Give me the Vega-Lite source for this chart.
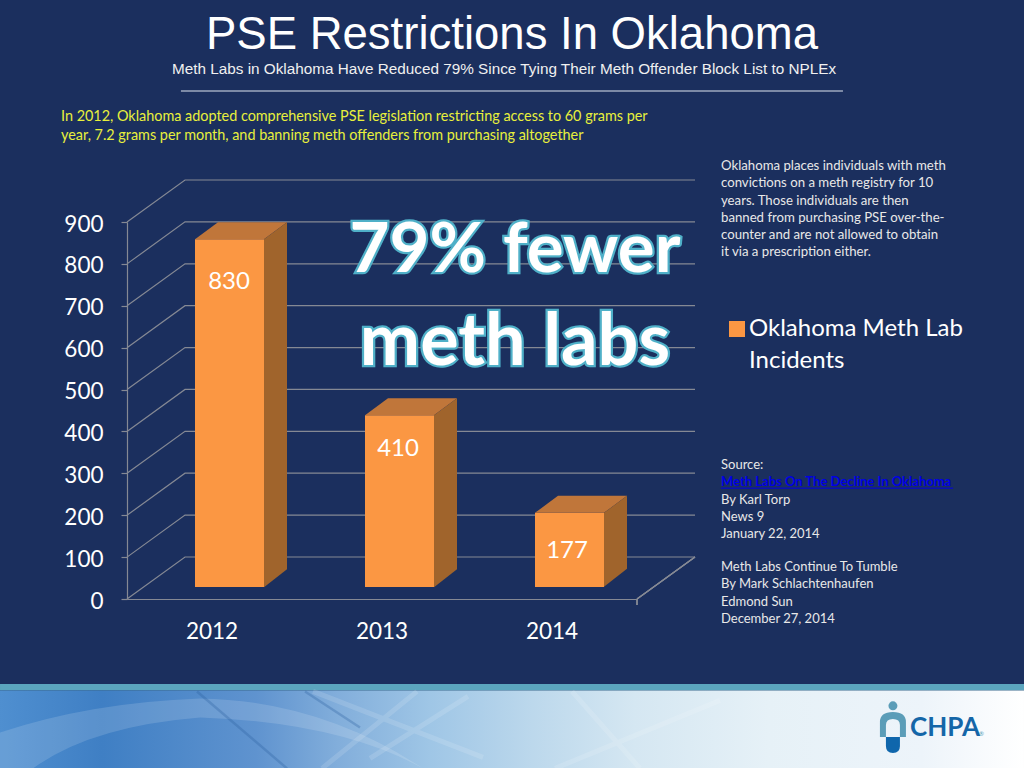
{
"$schema":"https://vega.github.io/schema/vega-lite/v6.json",
"autosize":"none",
"width":510,"height":377,
"padding":{"left":127,"top":222,"right":387,"bottom":169},
"background":"#1b2f5e",
"config":{"view":{"stroke":null},"font":"Lato"},
"title":{"text":"PSE Restrictions In Oklahoma","anchor":"middle","dx":130,"offset":4,"font":"Liberation Sans","fontSize":45.5,"fontWeight":"normal","color":"#ffffff"},
"datasets":{
"labs":[{"year":"2012","incidents":830,"series":"Oklahoma Meth Lab Incidents"},{"year":"2013","incidents":410,"series":"Oklahoma Meth Lab Incidents"},{"year":"2014","incidents":177,"series":"Oklahoma Meth Lab Incidents"}],
"ticks":[{"tick":0},{"tick":100},{"tick":200},{"tick":300},{"tick":400},{"tick":500},{"tick":600},{"tick":700},{"tick":800},{"tick":900}]
},
"resolve":{"scale":{"x":"independent","y":"independent"}},
"layer":[
{"data":{"values":[{"slide":"Oklahoma"}]},
 "layer":[
 {"mark":{"type":"rect","color":"#5ba5be"},"encoding":{"x":{"datum":0,"type":"quantitative","scale":{"domain":[12.402,62.207],"nice":false,"zero":false},"axis":null},"x2":{"datum":100},"y":{"datum":89.06,"type":"quantitative","scale":{"domain":[77.995,28.906],"nice":false,"zero":false},"axis":null},"y2":{"datum":89.9}}},
 {"mark":{"type":"rect","color":{"gradient":"linear","x1":0,"y1":0,"x2":1,"y2":0,"stops":[{"offset":0,"color":"#4f8fd0"},{"offset":0.1,"color":"#3f7fc4"},{"offset":0.25,"color":"#5f93cf"},{"offset":0.33,"color":"#82aedb"},{"offset":0.42,"color":"#9fc6e6"},{"offset":0.52,"color":"#bcd8ec"},{"offset":0.62,"color":"#d5e7f2"},{"offset":0.75,"color":"#e6f1f7"},{"offset":0.9,"color":"#edf4fa"},{"offset":1,"color":"#ffffff"}]}},"encoding":{"x":{"datum":0,"type":"quantitative","scale":{"domain":[12.402,62.207],"nice":false,"zero":false},"axis":null},"x2":{"datum":100},"y":{"datum":89.9,"type":"quantitative","scale":{"domain":[77.995,28.906],"nice":false,"zero":false},"axis":null},"y2":{"datum":100}}},
 {"mark":{"type":"point","shape":"M0,42 Q90,12 200,8 Q320,10 423,78 Q340,32 200,27 Q90,36 33,78 L0,78 Z","size":4,"filled":true,"color":"#ffffff","opacity":0.14},"encoding":{"x":{"datum":0,"type":"quantitative","scale":{"domain":[12.402,62.207],"nice":false,"zero":false},"axis":null},"y":{"datum":89.9,"type":"quantitative","scale":{"domain":[77.995,28.906],"nice":false,"zero":false},"axis":null}}},
 {"mark":{"type":"point","shape":"M197,1 L287,78 M305,1 L360,37","size":4,"filled":false,"color":"#2a5f9f","strokeWidth":2.5,"opacity":0.3},"encoding":{"x":{"datum":0,"type":"quantitative","scale":{"domain":[12.402,62.207],"nice":false,"zero":false},"axis":null},"y":{"datum":89.9,"type":"quantitative","scale":{"domain":[77.995,28.906],"nice":false,"zero":false},"axis":null}}},
 {"mark":{"type":"point","shape":"M417,1 L322,78 M468,6 L370,68 M313,1 L483,67 M572,1 L640,78 M720,10 L555,78","size":4,"filled":false,"color":"#ffffff","strokeWidth":5,"opacity":0.13},"encoding":{"x":{"datum":0,"type":"quantitative","scale":{"domain":[12.402,62.207],"nice":false,"zero":false},"axis":null},"y":{"datum":89.9,"type":"quantitative","scale":{"domain":[77.995,28.906],"nice":false,"zero":false},"axis":null}}},
 {"mark":{"type":"point","shape":"circle","size":80,"filled":true,"color":"#5b9db8","opacity":1},"encoding":{"x":{"datum":87.2,"type":"quantitative","scale":{"domain":[12.402,62.207],"nice":false,"zero":false},"axis":null},"y":{"datum":91.9,"type":"quantitative","scale":{"domain":[77.995,28.906],"nice":false,"zero":false},"axis":null}}},
 {"mark":{"type":"point","shape":"M-13,0 L-13,-15 Q-13,-25 0,-25 Q13,-25 13,-15 L13,0 L7,0 L7,-12 Q7,-18 0,-18 Q-7,-18 -7,-12 L-7,0 Z","size":4,"filled":true,"color":"#5b9db8","opacity":1},"encoding":{"x":{"datum":87.2,"type":"quantitative","scale":{"domain":[12.402,62.207],"nice":false,"zero":false},"axis":null},"y":{"datum":95.96,"type":"quantitative","scale":{"domain":[77.995,28.906],"nice":false,"zero":false},"axis":null}}},
 {"mark":{"type":"point","shape":"M-7,0 L7,0 L7,9 Q7,16 0,16 Q-7,16 -7,9 Z","size":4,"filled":true,"color":"#0f66ac","opacity":1},"encoding":{"x":{"datum":87.2,"type":"quantitative","scale":{"domain":[12.402,62.207],"nice":false,"zero":false},"axis":null},"y":{"datum":95.96,"type":"quantitative","scale":{"domain":[77.995,28.906],"nice":false,"zero":false},"axis":null}}},
 {"mark":{"type":"text","text":"CHPA","align":"left","baseline":"alphabetic","font":"Lato","fontWeight":"bold","fontSize":26,"color":"#1466a8"},"encoding":{"x":{"datum":88.87,"type":"quantitative","scale":{"domain":[12.402,62.207],"nice":false,"zero":false},"axis":null},"y":{"datum":95.83,"type":"quantitative","scale":{"domain":[77.995,28.906],"nice":false,"zero":false},"axis":null}}},
 {"mark":{"type":"text","text":"®","align":"left","baseline":"alphabetic","fontSize":6,"color":"#5b9db8"},"encoding":{"x":{"datum":95.6,"type":"quantitative","scale":{"domain":[12.402,62.207],"nice":false,"zero":false},"axis":null},"y":{"datum":95.83,"type":"quantitative","scale":{"domain":[77.995,28.906],"nice":false,"zero":false},"axis":null}}},
 {"mark":{"type":"text","text":"Meth Labs in Oklahoma Have Reduced 79% Since Tying Their Meth Offender Block List to NPLEx","align":"center","baseline":"alphabetic","font":"Liberation Sans","fontSize":15.3,"color":"#f0f0f0"},"encoding":{"x":{"datum":49.22,"type":"quantitative","scale":{"domain":[12.402,62.207],"nice":false,"zero":false},"axis":null},"y":{"datum":9.635,"type":"quantitative","scale":{"domain":[77.995,28.906],"nice":false,"zero":false},"axis":null}}},
 {"mark":{"type":"rule","color":"#dfe6ee","strokeWidth":1},"encoding":{"x":{"datum":17.67,"type":"quantitative","scale":{"domain":[12.402,62.207],"nice":false,"zero":false},"axis":null},"x2":{"datum":82.32},"y":{"datum":11.85,"type":"quantitative","scale":{"domain":[77.995,28.906],"nice":false,"zero":false},"axis":null}}},
 {"mark":{"type":"text","text":["In 2012, Oklahoma adopted comprehensive PSE legislation restricting access to 60 grams per","year, 7.2 grams per month, and banning meth offenders from purchasing altogether"],"align":"left","baseline":"alphabetic","fontSize":14.4,"lineHeight":19,"color":"#e8f03c"},"encoding":{"x":{"datum":5.957,"type":"quantitative","scale":{"domain":[12.402,62.207],"nice":false,"zero":false},"axis":null},"y":{"datum":15.755,"type":"quantitative","scale":{"domain":[77.995,28.906],"nice":false,"zero":false},"axis":null}}},
 {"mark":{"type":"text","text":["Oklahoma places individuals with meth","convictions on a meth registry for 10","years.  Those individuals are then","banned from purchasing PSE over-the-","counter and are not allowed to obtain","it via a prescription either."],"align":"left","baseline":"alphabetic","fontSize":13.2,"lineHeight":17.3,"color":"#e8e8e8"},"encoding":{"x":{"datum":70.41,"type":"quantitative","scale":{"domain":[12.402,62.207],"nice":false,"zero":false},"axis":null},"y":{"datum":22.135,"type":"quantitative","scale":{"domain":[77.995,28.906],"nice":false,"zero":false},"axis":null}}},
 {"mark":{"type":"text","text":"Source:","align":"left","baseline":"alphabetic","fontSize":13,"color":"#e8e8e8"},"encoding":{"x":{"datum":70.41,"type":"quantitative","scale":{"domain":[12.402,62.207],"nice":false,"zero":false},"axis":null},"y":{"datum":61.07,"type":"quantitative","scale":{"domain":[77.995,28.906],"nice":false,"zero":false},"axis":null}}},
 {"mark":{"type":"text","text":["By Karl Torp","News 9","January 22, 2014"],"align":"left","baseline":"alphabetic","fontSize":13,"lineHeight":17.1,"color":"#e8e8e8"},"encoding":{"x":{"datum":70.41,"type":"quantitative","scale":{"domain":[12.402,62.207],"nice":false,"zero":false},"axis":null},"y":{"datum":65.56,"type":"quantitative","scale":{"domain":[77.995,28.906],"nice":false,"zero":false},"axis":null}}},
 {"mark":{"type":"text","text":["Meth Labs Continue To Tumble","By Mark Schlachtenhaufen","Edmond Sun","December 27, 2014"],"align":"left","baseline":"alphabetic","fontSize":13,"lineHeight":17.3,"color":"#e8e8e8"},"encoding":{"x":{"datum":70.41,"type":"quantitative","scale":{"domain":[12.402,62.207],"nice":false,"zero":false},"axis":null},"y":{"datum":74.35,"type":"quantitative","scale":{"domain":[77.995,28.906],"nice":false,"zero":false},"axis":null}}},
 {"mark":{"type":"text","text":"Meth Labs On The Decline In Oklahoma","align":"left","baseline":"alphabetic","fontSize":13,"fontWeight":"bold","color":"#0000e6"},"encoding":{"x":{"datum":70.41,"type":"quantitative","scale":{"domain":[12.402,62.207],"nice":false,"zero":false},"axis":null},"y":{"datum":63.28,"type":"quantitative","scale":{"domain":[77.995,28.906],"nice":false,"zero":false},"axis":null}}},
 {"mark":{"type":"rule","color":"#0000e6","strokeWidth":1},"encoding":{"x":{"datum":70.41,"type":"quantitative","scale":{"domain":[12.402,62.207],"nice":false,"zero":false},"axis":null},"x2":{"datum":93.07},"y":{"datum":63.56,"type":"quantitative","scale":{"domain":[77.995,28.906],"nice":false,"zero":false},"axis":null}}}
 ]},
{"data":{"name":"labs"},
 "layer":[
 {"data":{"name":"ticks"},"mark":{"type":"point","shape":"M-85,0 L-27,-42 L483,-42","size":4,"filled":false,"color":"#858994","strokeWidth":1.2,"opacity":1},"encoding":{"x":{"datum":"2012","type":"ordinal","scale":{"domain":["2012","2013","2014"],"paddingInner":0,"paddingOuter":0},"axis":{"title":null,"labelAngle":0,"labelFontSize":22.5,"labelColor":"#ffffff","labelFont":"Lato","labelPadding":21,"ticks":false,"domainColor":"#858994","domainWidth":1.2}},"y":{"field":"tick","type":"quantitative","scale":{"domain":[0,900],"nice":false},"axis":{"title":null,"values":[0,100,200,300,400,500,600,700,800,900],"grid":false,"labelFontSize":22.5,"labelColor":"#ffffff","labelFont":"Lato","labelPadding":18,"labelOffset":2,"tickColor":"#858994","tickSize":6,"tickWidth":1.2,"domainColor":"#858994","domainWidth":1.2}}}},
 {"mark":{"type":"point","shape":"M425,0 L483,-42 M425,0 L425,6","size":4,"filled":false,"color":"#858994","strokeWidth":1.2,"opacity":1},"encoding":{"x":{"datum":"2012","type":"ordinal"},"y":{"datum":0,"type":"quantitative"}}},
 {"mark":{"type":"bar","size":69,"xOffset":17.5,"yOffset":-12,"y2Offset":-12},"encoding":{"x":{"field":"year","type":"ordinal"},"y":{"field":"incidents","type":"quantitative","stack":null},"y2":{"datum":0},"color":{"field":"series","type":"nominal","scale":{"range":["#fb9743"]},"legend":{"title":null,"orient":"none","legendX":598,"legendY":95,"symbolType":"square","symbolSize":256,"symbolStrokeWidth":0,"labelOffset":0,"labelFontSize":24,"labelColor":"#ffffff","labelFont":"Lato","labelLimit":400,"labelExpr":"['Oklahoma Meth Lab','Incidents']","encode":{"labels":{"update":{"lineHeight":{"value":32}}}}}}}},
 {"mark":{"type":"point","shape":"M-17,-12 L6,-29 L75,-29 L52,-12 Z","size":4,"filled":true,"color":"#c0763a","opacity":1},"encoding":{"x":{"field":"year","type":"ordinal"},"y":{"field":"incidents","type":"quantitative"}}},
 {"mark":{"type":"point","size":4,"filled":true,"color":"#a0642c","opacity":1},"encoding":{"x":{"field":"year","type":"ordinal"},"y":{"field":"incidents","type":"quantitative"},"shape":{"field":"year","type":"nominal","scale":{"domain":["2012","2013","2014"],"range":["M52,-12 L75,-29 L75,318 L52,336 Z","M52,-12 L75,-29 L75,142 L52,160 Z","M52,-12 L75,-29 L75,44 L52,62 Z"]},"legend":null}}},
 {"transform":[{"filter":"datum.year=='2012'"}],"mark":{"type":"text","dx":17,"dy":31,"fontSize":24,"color":"#ffffff"},"encoding":{"x":{"field":"year","type":"ordinal"},"y":{"field":"incidents","type":"quantitative"},"text":{"field":"incidents","type":"quantitative"}}},
 {"transform":[{"filter":"datum.year=='2013'"}],"mark":{"type":"text","dx":16,"dy":22,"fontSize":24,"color":"#ffffff"},"encoding":{"x":{"field":"year","type":"ordinal"},"y":{"field":"incidents","type":"quantitative"},"text":{"field":"incidents","type":"quantitative"}}},
 {"transform":[{"filter":"datum.year=='2014'"}],"mark":{"type":"text","dx":15,"dy":26,"fontSize":24,"color":"#ffffff"},"encoding":{"x":{"field":"year","type":"ordinal"},"y":{"field":"incidents","type":"quantitative"},"text":{"field":"incidents","type":"quantitative"}}}
 ]},
{"data":{"values":[{"slide":"Oklahoma"}]},
 "layer":[
 {"mark":{"type":"text","text":"79% fewer","align":"center","baseline":"alphabetic","fontSize":69,"fontWeight":"bold","fill":"#ffffff","stroke":"#4fb0c8","strokeWidth":4.5},"encoding":{"x":{"datum":50.29,"type":"quantitative","scale":{"domain":[12.402,62.207],"nice":false,"zero":false},"axis":null},"y":{"datum":35.42,"type":"quantitative","scale":{"domain":[77.995,28.906],"nice":false,"zero":false},"axis":null}}},
 {"mark":{"type":"text","text":"meth labs","align":"center","baseline":"alphabetic","fontSize":72,"fontWeight":"bold","fill":"#ffffff","stroke":"#4fb0c8","strokeWidth":4.5},"encoding":{"x":{"datum":50.29,"type":"quantitative","scale":{"domain":[12.402,62.207],"nice":false,"zero":false},"axis":null},"y":{"datum":47.53,"type":"quantitative","scale":{"domain":[77.995,28.906],"nice":false,"zero":false},"axis":null}}},
 {"mark":{"type":"text","text":"79% fewer","align":"center","baseline":"alphabetic","fontSize":69,"fontWeight":"bold","color":"#ffffff"},"encoding":{"x":{"datum":50.29,"type":"quantitative","scale":{"domain":[12.402,62.207],"nice":false,"zero":false},"axis":null},"y":{"datum":35.42,"type":"quantitative","scale":{"domain":[77.995,28.906],"nice":false,"zero":false},"axis":null}}},
 {"mark":{"type":"text","text":"meth labs","align":"center","baseline":"alphabetic","fontSize":72,"fontWeight":"bold","color":"#ffffff"},"encoding":{"x":{"datum":50.29,"type":"quantitative","scale":{"domain":[12.402,62.207],"nice":false,"zero":false},"axis":null},"y":{"datum":47.53,"type":"quantitative","scale":{"domain":[77.995,28.906],"nice":false,"zero":false},"axis":null}}}
 ]}
]
}
